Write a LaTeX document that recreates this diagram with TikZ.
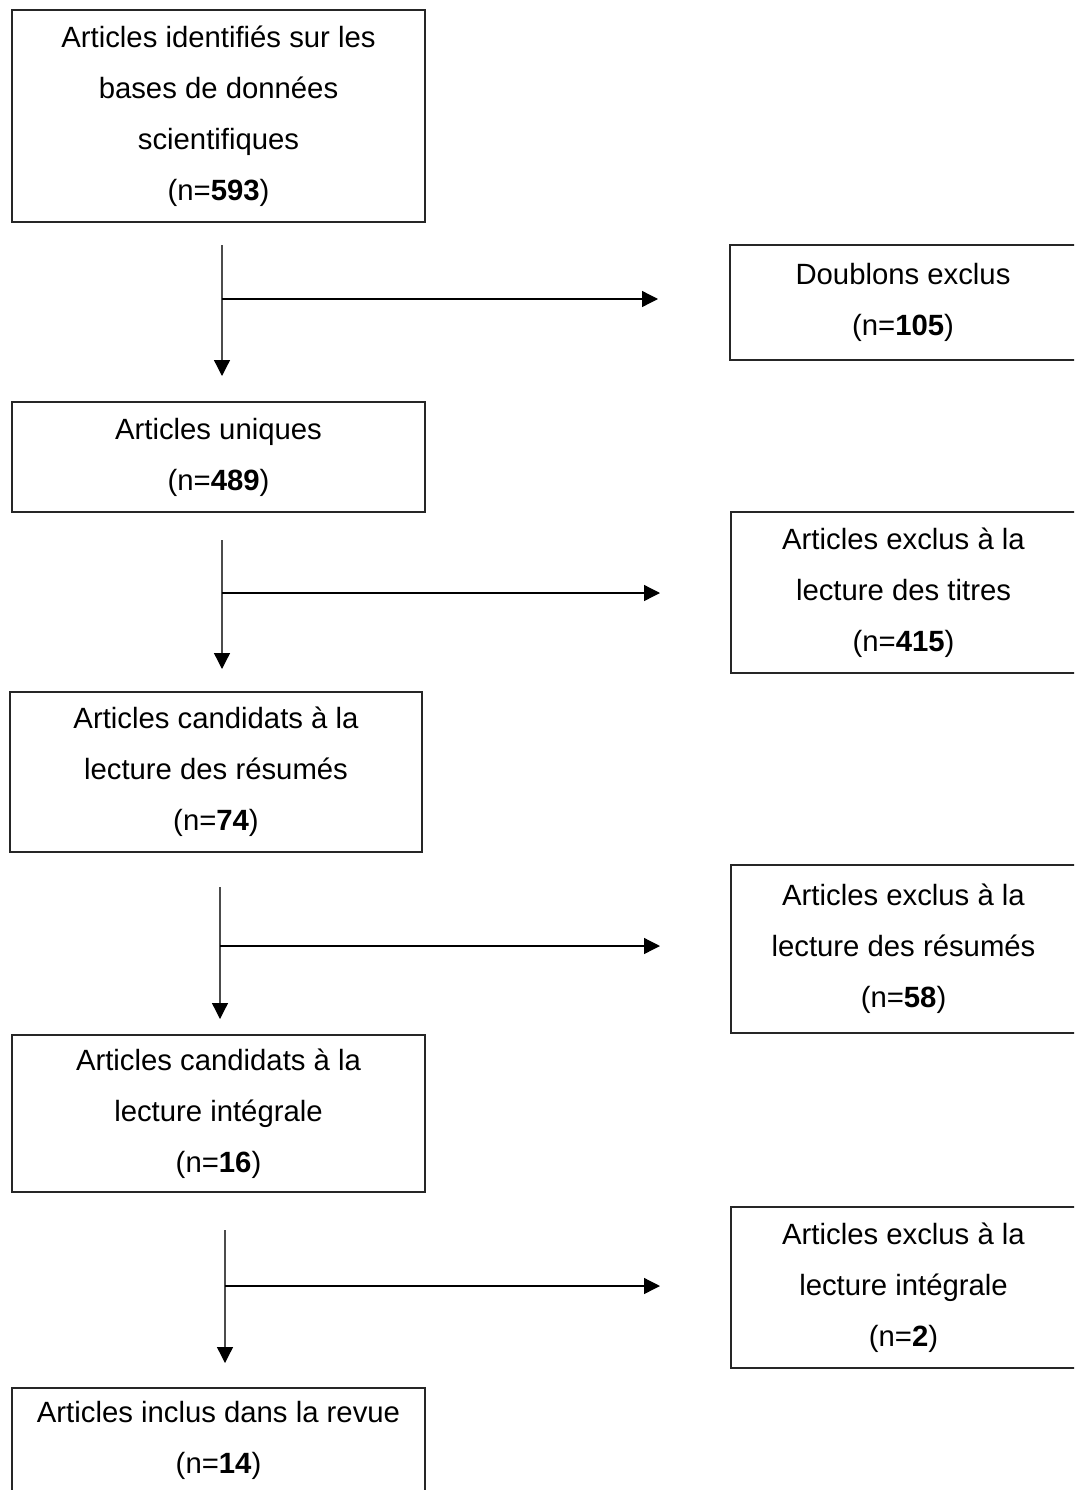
\documentclass[tikz,border=0pt]{standalone}
\usepackage{fontspec}
\setmainfont{Liberation Sans}
\usetikzlibrary{arrows.meta}
\newcommand{\boxfont}{\fontsize{29.3}{51}\selectfont}
\begin{document}
\begin{tikzpicture}[x=1pt,y=-1pt,
  box/.style={draw=black!85, line width=1.3pt, inner sep=0pt, align=center, font=\boxfont},
  arr/.style={line width=1.3pt, -{Triangle[length=16pt,width=16pt,color=black]}},
  vline/.style={arr, draw=black!70}]
\useasboundingbox (0,0) rectangle (1074,1490);
\clip (0,0) rectangle (1074,1490);
% left column
\node[box, minimum width=413pt, minimum height=212pt] (b1) at (218.5,116) {Articles identifiés sur les\\bases de données\\scientifiques\\(n=\textbf{593})};
\node[box, minimum width=413pt, minimum height=110pt] (b3) at (218.5,457) {Articles uniques\\(n=\textbf{489})};
\node[box, minimum width=412pt, minimum height=160pt] (b5) at (216,772) {Articles candidats à la\\lecture des résumés\\(n=\textbf{74})};
\node[box, minimum width=413pt, minimum height=157pt] (b7) at (218.5,1113.5) {Articles candidats à la\\lecture intégrale\\(n=\textbf{16})};
\node[box, minimum width=413pt, minimum height=105pt] (b9) at (218.5,1440.5) {Articles inclus dans la revue\\(n=\textbf{14})};
% right column
\node[box, minimum width=346pt, minimum height=115pt] (b2) at (903,302.5) {Doublons exclus\\(n=\textbf{105})};
\node[box, minimum width=345pt, minimum height=161pt] (b4) at (903.5,592.5) {Articles exclus à la\\lecture des titres\\(n=\textbf{415})};
\node[box, minimum width=345pt, minimum height=168pt] (b6) at (903.5,949) {Articles exclus à la\\lecture des résumés\\(n=\textbf{58})};
\node[box, minimum width=345pt, minimum height=161pt] (b8) at (903.5,1287.5) {Articles exclus à la\\lecture intégrale\\(n=\textbf{2})};
% connectors
\coordinate (v1s) at (222,245); \coordinate (v1e) at (222,376);
\coordinate (h1s) at (222,299); \coordinate (h1e) at (658,299);
\coordinate (v2s) at (222,540); \coordinate (v2e) at (222,669);
\coordinate (h2s) at (222,593); \coordinate (h2e) at (660,593);
\coordinate (v3s) at (220,887); \coordinate (v3e) at (220,1019);
\coordinate (h3s) at (220,946); \coordinate (h3e) at (660,946);
\coordinate (v4s) at (225,1230); \coordinate (v4e) at (225,1363);
\coordinate (h4s) at (225,1286); \coordinate (h4e) at (660,1286);
\draw[vline] (v1s) -- (v1e);
\draw[arr] (h1s) -- (h1e);
\draw[vline] (v2s) -- (v2e);
\draw[arr] (h2s) -- (h2e);
\draw[vline] (v3s) -- (v3e);
\draw[arr] (h3s) -- (h3e);
\draw[vline] (v4s) -- (v4e);
\draw[arr] (h4s) -- (h4e);
\end{tikzpicture}
\end{document}
